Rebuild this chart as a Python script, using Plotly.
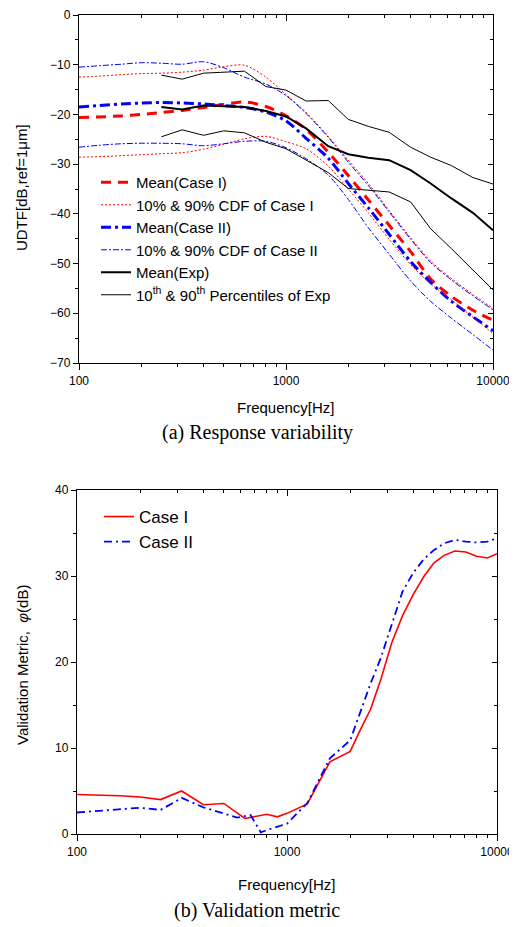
import plotly.graph_objects as go

# page is drawn with an 8px body margin, so the figure is 8px smaller on each side
OFF = 8
W, H = 517 - OFF, 927 - OFF

# ---------------- data: (a) response variability ----------------
freq_sim = [100, 125, 160, 200, 250, 315, 400, 500, 630, 800, 1000, 1250, 1600,
            2000, 2500, 3150, 4000, 5000, 6300, 8000, 10000]
mean_case1 = [-20.6, -20.5, -20.3, -20.0, -19.6, -19.2, -18.6, -18.0, -17.5, -18.4, -20.3,
              -23.0, -27.6, -32.3, -37.2, -42.3, -47.6, -53.1, -56.6, -59.4, -61.4]
p90_case1 = [-12.5, -12.3, -12.0, -11.8, -11.7, -11.5, -11.1, -10.4, -10.1, -12.5, -16.0,
             -19.6, -24.4, -29.2, -33.9, -39.3, -44.8, -49.5, -53.0, -56.2, -59.0]
p10_case1 = [-28.6, -28.5, -28.3, -28.1, -27.9, -27.7, -27.0, -26.0, -24.9, -24.4, -25.5,
             -26.9, -30.4, -35.0, -39.8, -45.1, -50.2, -54.1, -57.3, -60.8, -64.1]
mean_case2 = [-18.5, -18.2, -17.9, -17.7, -17.6, -17.7, -17.9, -18.2, -18.6, -19.5, -21.3,
              -24.8, -28.8, -33.9, -38.8, -44.1, -49.6, -53.8, -57.6, -60.7, -63.5]
p90_case2 = [-10.5, -10.2, -9.9, -9.6, -9.7, -9.9, -9.4, -10.6, -12.5, -13.9, -16.2,
             -19.8, -24.6, -29.6, -34.3, -39.6, -45.1, -49.8, -53.3, -56.5, -59.3]
p10_case2 = [-26.6, -26.2, -25.9, -25.8, -25.8, -25.9, -26.3, -25.9, -25.4, -25.4, -26.7,
             -28.9, -32.2, -37.1, -42.8, -48.1, -53.5, -57.6, -61.0, -64.3, -67.4]

freq_exp = [250, 315, 400, 500, 630, 800, 1000, 1250, 1600, 2000, 2500, 3150, 4000,
            5000, 6300, 8000, 10000]
mean_exp = [-18.5, -19.0, -18.2, -18.3, -18.5, -19.3, -20.4, -22.8, -26.4, -28.0, -28.7,
            -29.2, -31.2, -33.9, -36.9, -39.8, -43.3]
p90_exp = [-12.1, -12.9, -11.7, -11.5, -11.3, -14.4, -15.1, -17.3, -17.2, -21.0, -22.4,
           -23.6, -26.6, -28.6, -30.3, -32.7, -34.0]
p10_exp = [-24.5, -23.1, -24.2, -23.3, -23.7, -25.6, -26.9, -29.2, -31.7, -34.9, -35.3,
           -35.6, -37.6, -43.0, -47.0, -51.2, -55.3]

# ---------------- data: (b) validation metric ----------------
freq_m1 = [100, 125, 160, 200, 250, 315, 400, 500, 630, 800, 900, 1000, 1250, 1600, 2000,
           2234, 2500, 2800, 3150, 3550, 4000, 4500, 5000, 5600, 6300, 7100, 8000, 9000, 10000]
metric_case1 = [4.6, 4.55, 4.45, 4.3, 4.0, 5.0, 3.4, 3.55, 1.8, 2.3, 2.0, 2.4, 3.5, 8.4, 9.6,
                12.1, 14.5, 18.0, 22.2, 25.4, 27.9, 30.0, 31.5, 32.4, 32.9, 32.8, 32.3, 32.1, 32.6]
freq_m2 = [100, 125, 160, 200, 250, 315, 400, 500, 580, 670, 750, 800, 1000, 1250, 1600, 2000,
           2500, 2800, 3150, 3550, 4000, 4500, 5000, 5600, 6300, 7100, 8000, 9000, 10000]
metric_case2 = [2.5, 2.7, 2.9, 3.05, 2.8, 4.2, 3.1, 2.4, 1.9, 2.2, 0.2, 0.45, 1.2, 3.6, 8.8, 10.9,
                17.5, 20.5, 24.3, 28.2, 30.4, 32.0, 33.0, 33.8, 34.2, 34.0, 33.9, 34.0, 34.4]

RED = "#ff0000"
BLUE = "#0000ff"
FONT = "Liberation Sans, Arial, sans-serif"
SERIF = "Liberation Serif, Times New Roman, serif"

fig = go.Figure()

def add(x, y, name, color, width, dash, xa, ya, legend, show=True, shape="linear"):
    fig.add_trace(go.Scatter(
        x=x, y=y, name=name, mode="lines",
        line=dict(color=color, width=width, dash=dash, shape=shape, smoothing=0.8),
        xaxis=xa, yaxis=ya, legend=legend, showlegend=show,
        hoverinfo="skip"))

PE = "10<sup>th</sup> & 90<sup>th</sup> Percentiles of Exp"

# top chart (legend entries first, in reference order)
add(freq_sim, mean_case1, "Mean(Case I)", RED, 3, "10px,7px", "x", "y", "legend", shape="spline")
add(freq_sim, p90_case1, "10% & 90% CDF of Case I", RED, 1, "2px,2px", "x", "y", "legend", shape="spline")
add(freq_sim, mean_case2, "Mean(Case II)", BLUE, 3, "10px,4px,3px,4px", "x", "y", "legend", shape="spline")
add(freq_sim, p90_case2, "10% & 90% CDF of Case II", BLUE, 1, "6px,2px,2px,2px", "x", "y", "legend", shape="spline")
add(freq_exp, mean_exp, "Mean(Exp)", "black", 2, "solid", "x", "y", "legend")
add(freq_exp, p90_exp, PE, "black", 1, "solid", "x", "y", "legend")
add(freq_sim, p10_case1, "10% CDF of Case I", RED, 1, "2px,2px", "x", "y", "legend", False, shape="spline")
add(freq_sim, p10_case2, "10% CDF of Case II", BLUE, 1, "6px,2px,2px,2px", "x", "y", "legend", False, shape="spline")
add(freq_exp, p10_exp, "10th Percentile of Exp", "black", 1, "solid", "x", "y", "legend", False)

# bottom chart
add(freq_m1, metric_case1, "Case I", RED, 1.6, "solid", "x2", "y2", "legend2")
add(freq_m2, metric_case2, "Case II", BLUE, 1.8, "8px,4px,2px,4px", "x2", "y2", "legend2")

# dummy traces for inward mirror-tick axes
for xa, ya in (("x3", "y3"), ("x4", "y4")):
    fig.add_trace(go.Scatter(x=[None], y=[None], xaxis=xa, yaxis=ya, showlegend=False,
                             hoverinfo="skip", mode="lines"))

# helpers: page pixel -> paper fraction
def px_x(p):
    return (p - OFF) / W

def px_y(p):
    return 1 - (p - OFF) / H

tickfont = dict(family=FONT, size=12, color="black")
common_x = dict(type="log", range=[2, 4], dtick=1, tick0=0, tickformat="d",
                showgrid=False, zeroline=False, automargin=False,
                linecolor="black", linewidth=1.3, tickcolor="black", tickwidth=1.2,
                tickfont=tickfont)
common_y = dict(showgrid=False, zeroline=False, automargin=False, linecolor="black", linewidth=1.3,
                tickcolor="black", tickwidth=1.2, tickfont=tickfont)

def xminor(direction):
    return dict(dtick="D1", ticks=direction, ticklen=3, tickcolor="black", tickwidth=1, showgrid=False)

def yminor(direction):
    return dict(dtick=5, ticks=direction, ticklen=3, tickcolor="black", tickwidth=1, showgrid=False)

dom_x1 = [px_x(79), px_x(493)]
dom_y1 = [px_y(363), px_y(15)]
dom_x2 = [px_x(77), px_x(497)]
dom_y2 = [px_y(834), px_y(490)]

fig.update_layout(
    template="none",
    width=W, height=H, margin=dict(l=0, r=0, t=0, b=0, pad=0, autoexpand=False),
    paper_bgcolor="white", plot_bgcolor="white",
    xaxis=dict(common_x, domain=dom_x1, anchor="y", ticks="outside", ticklen=6, showline=True,
               mirror=True, minor=xminor("outside")),
    yaxis=dict(common_y, domain=dom_y1, anchor="x", range=[-70, 0], dtick=10, ticks="outside",
               ticklen=5, showline=True, mirror=True, minor=yminor("outside")),
    xaxis3=dict(common_x, overlaying="x", anchor="y3", side="top", ticks="inside", ticklen=6,
                showticklabels=False, showline=False, minor=xminor("inside")),
    yaxis3=dict(common_y, overlaying="y", anchor="x3", side="right", range=[-70, 0], dtick=10,
                ticks="inside", ticklen=5, showticklabels=False, showline=False, minor=yminor("inside")),
    xaxis2=dict(common_x, domain=dom_x2, anchor="y2", ticks="outside", ticklen=6, showline=True,
                mirror=True, minor=xminor("outside")),
    yaxis2=dict(common_y, domain=dom_y2, anchor="x2", range=[0, 40], dtick=10, ticks="outside",
                ticklen=5, showline=True, mirror=True, minor=yminor("outside")),
    xaxis4=dict(common_x, overlaying="x2", anchor="y4", side="top", ticks="inside", ticklen=6,
                showticklabels=False, showline=False, minor=xminor("inside")),
    yaxis4=dict(common_y, overlaying="y2", anchor="x4", side="right", range=[0, 40], dtick=10,
                ticks="inside", ticklen=5, showticklabels=False, showline=False, minor=yminor("inside")),
    legend=dict(x=px_x(96), y=px_y(166), xanchor="left", yanchor="top", bgcolor="rgba(0,0,0,0)",
                borderwidth=0, font=dict(family=FONT, size=15, color="black"),
                tracegroupgap=0, traceorder="normal"),
    legend2=dict(x=px_x(99), y=px_y(499), xanchor="left", yanchor="top", bgcolor="rgba(0,0,0,0)",
                 borderwidth=0, font=dict(family=FONT, size=17, color="black"),
                 tracegroupgap=0, traceorder="normal"),
    showlegend=True,
)

ann_font = dict(family=FONT, size=15, color="black")

def note(px, py, text, font, angle=0):
    fig.add_annotation(x=px_x(px), y=px_y(py), xref="paper", yref="paper", text=text,
                       textangle=angle, showarrow=False, font=font,
                       xanchor="center", yanchor="middle")

note(21, 188, "UDTF[dB,ref=1μm]", ann_font, -90)
note(22, 665, "Validation Metric,  <i>φ</i>(dB)", ann_font, -90)
note(286, 408, "Frequency[Hz]", ann_font)
note(287, 884, "Frequency[Hz]", ann_font)
note(257, 432, "(a) Response variability", dict(family=SERIF, size=20, color="black"))
note(257, 910, "(b) Validation metric", dict(family=SERIF, size=20, color="black"))

fig.write_html("out.html")
